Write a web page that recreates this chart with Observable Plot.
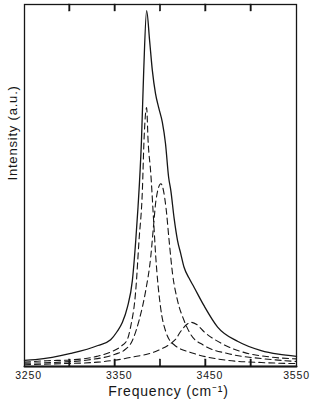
<!DOCTYPE html>
<html>
<head>
<meta charset="utf-8">
<script src="https://cdn.jsdelivr.net/npm/d3@7"></script>
<script src="https://cdn.jsdelivr.net/npm/@observablehq/plot@0.6"></script>
<style>
  html, body { margin: 0; padding: 0; background: #fff; }
  .fig text { letter-spacing: 0.8px; }
</style>
</head>
<body>
<div id="chart"></div>
<script>
// Total (solid) spectrum
const solidFreq = [3250, 3262, 3301, 3331, 3345, 3352, 3358, 3363.5, 3369, 3372.7, 3375.2, 3379, 3381.5, 3384.7, 3388, 3391, 3394.5, 3398, 3402, 3405.5, 3409, 3411.4, 3415, 3418.8, 3422.3, 3426, 3431.3, 3437, 3448, 3463, 3485.5, 3511, 3530, 3550];
const solidInt  = [1.7, 1.9, 3.6, 5.8, 7.4, 9.6, 12.2, 16.4, 23.8, 34.8, 44.0, 62.4, 81.8, 98.3, 90, 81.8, 75.4, 71.5, 67.5, 61.6, 52.2, 48.6, 41, 34.8, 31.2, 27.4, 24.5, 21.9, 16.8, 10.9, 6.9, 4.4, 3.4, 2.8];

// Component 1 (narrow, dashed)
const comp1Freq = [3250, 3275, 3300, 3330, 3345, 3356, 3363.5, 3367, 3372.7, 3376.3, 3380, 3381.8, 3384.7, 3386.3, 3389.3, 3392.2, 3394.8, 3400, 3406, 3415, 3437, 3474, 3511, 3550];
const comp1Int  = [1.2, 1.6, 1.8, 2.8, 4.0, 5.5, 7.5, 10.9, 21.0, 34.8, 48.6, 62.4, 71.5, 62.4, 53.3, 41.2, 30.2, 16.5, 9.5, 6.0, 3.6, 1.7, 1.1, 0.8];

// Component 2 (medium, dashed)
const comp2Freq = [3250, 3290, 3320, 3350, 3360, 3369, 3376.3, 3383.7, 3389.2, 3392.2, 3395, 3400.4, 3406, 3409.5, 3413.3, 3418.8, 3426, 3433, 3448, 3474, 3511, 3550];
const comp2Int  = [0.9, 1.2, 1.8, 3.4, 4.5, 7.2, 12.7, 21.0, 30.2, 38.5, 45.9, 50.5, 44.0, 34.8, 25.6, 18.2, 12.7, 9.0, 5.8, 3.6, 2.2, 1.4];

// Component 3 (broad, dashed)
const comp3Freq = [3250, 3293, 3331, 3367, 3397, 3411.5, 3417, 3422, 3430, 3433.5, 3440, 3448, 3467, 3492, 3522, 3550];
const comp3Int  = [0.5, 0.8, 1.2, 2.5, 4.4, 6.4, 7.6, 9.6, 11.8, 12.2, 11.6, 9.6, 6.4, 3.9, 2.6, 2.1];

const xLabelTicks = [3250, 3350, 3450];
const xLabelTicksEdge = [3550];
const xMarkTicks = [3300, 3350, 3400, 3450, 3500];
const xLabel = "Frequency (cm\u207B\u00B9)";
const yLabel = "Intensity (a.u.)";

const rows = (f, v) => f.map((x, i) => ({x, y: v[i]}));
const ink = "#161616";
const fmt = d3.format("d");
const yMax = 100;
const plotW = 310 - 24 - 14;         // inner frame width in px
const plotH = 406 - 4 - 40;          // inner frame height in px
const tickLen = yMax * 7 / plotH;    // 7px tick length in y units
const tickHalfW = 300 * 0.7 / plotW; // 0.7px half-width in x units

// inward tick marks drawn as thin filled bars at the bottom and top edges
const tickBars = xMarkTicks.flatMap(t => [
  {x1: t - tickHalfW, x2: t + tickHalfW, y1: 0, y2: tickLen},
  {x1: t - tickHalfW, x2: t + tickHalfW, y1: yMax - tickLen, y2: yMax}
]);

const chart = Plot.plot({
  width: 310,
  height: 406,
  marginLeft: 24,
  marginRight: 14,
  marginTop: 4,
  marginBottom: 40,
  className: "fig",
  style: {fontFamily: "'Liberation Sans', Arial, sans-serif", background: "#fff", color: ink},
  x: {domain: [3250, 3550]},
  y: {domain: [0, yMax], axis: null},
  marks: [
    Plot.frame({stroke: ink, strokeWidth: 1.3}),
    Plot.line(rows([3250, 3550], [0, 0]), {x: "x", y: "y", stroke: ink, strokeWidth: 2}),
    Plot.rect(tickBars, {x1: "x1", x2: "x2", y1: "y1", y2: "y2", fill: ink, stroke: ink, strokeWidth: 0.4}),
    Plot.axisX(xLabelTicks, {anchor: "bottom", tickSize: 0, tickPadding: 5, dx: 4, fontSize: 10.5, tickFormat: fmt, label: null, fill: ink}),
    Plot.axisX(xLabelTicksEdge, {anchor: "bottom", tickSize: 0, tickPadding: 5, dx: 0, fontSize: 10.5, tickFormat: fmt, label: null, fill: ink}),
    Plot.line(rows(comp1Freq, comp1Int), {x: "x", y: "y", stroke: ink, strokeWidth: 1.1, strokeDasharray: "6,4", curve: "monotone-x"}),
    Plot.line(rows(comp2Freq, comp2Int), {x: "x", y: "y", stroke: ink, strokeWidth: 1.1, strokeDasharray: "6,4", curve: "monotone-x"}),
    Plot.line(rows(comp3Freq, comp3Int), {x: "x", y: "y", stroke: ink, strokeWidth: 1.1, strokeDasharray: "6,4", curve: "monotone-x"}),
    Plot.line(rows(solidFreq, solidInt), {x: "x", y: "y", stroke: ink, strokeWidth: 1.3, curve: "monotone-x"}),
    Plot.text([yLabel], {frameAnchor: "left", dx: -12, dy: -5, rotate: -90, fontSize: 13, fill: ink}),
    Plot.text([xLabel], {frameAnchor: "bottom", dx: 8, dy: 29, fontSize: 14, fill: ink})
  ]
});
document.getElementById("chart").appendChild(chart);
</script>
</body>
</html>
